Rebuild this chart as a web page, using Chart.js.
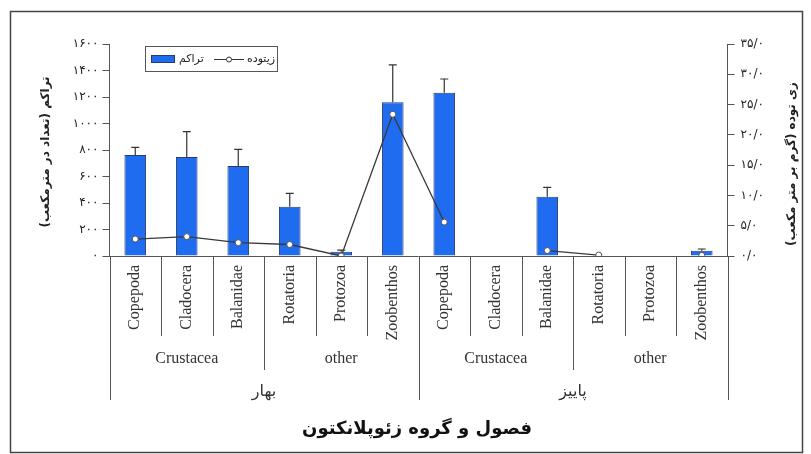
<!DOCTYPE html>
<html>
<head>
<meta charset="utf-8">
<script src="https://cdn.jsdelivr.net/npm/chart.js@4.4.0/dist/chart.umd.min.js"></script>
<style>
  body { margin: 0; background: #fff; }
  canvas { display: block; }
</style>
</head>
<body>
<canvas id="chart" width="811" height="454"></canvas>
<script>
// Zooplankton data, two seasons x six groups
const categories = ['Copepoda', 'Cladocera', 'Balanidae', 'Rotatoria', 'Protozoa', 'Zoobenthos',
                    'Copepoda', 'Cladocera', 'Balanidae', 'Rotatoria', 'Protozoa', 'Zoobenthos'];
const groups = ['Crustacea', 'other', 'Crustacea', 'other'];
const seasons = ['بهار', 'پاییز'];
// density (count per m3), left axis
const density = [762, 748, 680, 372, 33, 1160, 1232, 0, 448, 4, 0, 40];
const densityErrTop = [820, 938, 805, 473, 45, 1442, 1336, null, 518, null, null, 53];
// biomass (g per m3), right axis
const biomass = [2.8, 3.2, 2.2, 1.9, 0, 23.4, 5.6, null, 0.9, 0.15, null, 0.1];

const densityTicks = [0, 200, 400, 600, 800, 1000, 1200, 1400, 1600];
const biomassTicks = [0, 5, 10, 15, 20, 25, 30, 35];

const faDigits = '۰۱۲۳۴۵۶۷۸۹';
function fa(n) {
    return String(n).replace(/[0-9]/g, d => faDigits[d]);
}

const lineCol = '#555';
const barCol = '#1f6cf0';

// draws frame, error bars, grouped x labels, axis titles, legend
const extras = {
    id: 'extras',
    beforeDraw(chart) {
        const ctx = chart.ctx;
        ctx.save();
        ctx.fillStyle = '#fff';
        ctx.fillRect(0, 0, chart.width, chart.height);
        ctx.strokeStyle = '#444';
        ctx.lineWidth = 1.5;
        ctx.strokeRect(10.5, 11.5, 792, 441);
        ctx.restore();
    },
    afterDatasetsDraw(chart) {
        const ctx = chart.ctx;
        const y = chart.scales.y;
        const bars = chart.getDatasetMeta(1).data;
        ctx.save();
        ctx.strokeStyle = '#333';
        ctx.lineWidth = 1.2;
        densityErrTop.forEach((v, i) => {
            if (v == null) return;
            const bx = bars[i].x;
            const top = y.getPixelForValue(v);
            const base = y.getPixelForValue(density[i]);
            ctx.beginPath();
            ctx.moveTo(bx, base);
            ctx.lineTo(bx, top);
            ctx.moveTo(bx - 4, top);
            ctx.lineTo(bx + 4, top);
            ctx.stroke();
        });
        ctx.restore();
    },
    afterDraw(chart) {
        const ctx = chart.ctx;
        const x = chart.scales.x;
        const area = chart.chartArea;
        const bottom = area.bottom;
        const step = x.getPixelForValue(1) - x.getPixelForValue(0);
        const edge = i => x.getPixelForValue(0) - step / 2 + i * step;
        ctx.save();

        // separators under the axis
        ctx.strokeStyle = lineCol;
        ctx.lineWidth = 1;
        for (let i = 0; i <= categories.length; i++) {
            let end = bottom + 80;
            if (i % 6 === 0) end = bottom + 144;
            else if (i % 3 === 0) end = bottom + 114;
            const px = Math.round(edge(i)) + 0.5;
            ctx.beginPath();
            ctx.moveTo(px, bottom);
            ctx.lineTo(px, end);
            ctx.stroke();
        }

        // category labels, rotated
        ctx.fillStyle = '#333';
        ctx.font = '16px "Liberation Serif"';
        ctx.textAlign = 'right';
        ctx.textBaseline = 'middle';
        categories.forEach((c, i) => {
            ctx.save();
            ctx.translate(x.getPixelForValue(i), bottom + 9);
            ctx.rotate(-Math.PI / 2);
            ctx.fillText(c, 0, 0);
            ctx.restore();
        });

        // group labels
        ctx.textAlign = 'center';
        groups.forEach((g, i) => {
            ctx.fillText(g, (edge(i * 3) + edge(i * 3 + 3)) / 2, bottom + 103);
        });

        // season labels
        ctx.font = '16px "DejaVu Sans"';
        seasons.forEach((s, i) => {
            ctx.fillText(s, (edge(i * 6) + edge(i * 6 + 6)) / 2, bottom + 136);
        });

        // x title
        ctx.fillStyle = '#111';
        ctx.font = 'bold 18px "DejaVu Sans"';
        ctx.fillText('فصول و گروه زئوپلانکتون', 417, 429);

        // y titles, both read bottom to top
        ctx.font = 'bold 12px "DejaVu Sans"';
        ctx.fillStyle = '#222';
        ctx.save();
        ctx.translate(46, 152);
        ctx.rotate(-Math.PI / 2);
        ctx.fillText('تراکم (تعداد در مترمکعب)', 0, 0);
        ctx.restore();
        ctx.save();
        ctx.translate(792, 164);
        ctx.rotate(-Math.PI / 2);
        ctx.fillText('زی توده (گرم بر متر مکعب)', 0, 0);
        ctx.restore();

        // legend
        ctx.strokeStyle = '#555';
        ctx.lineWidth = 1;
        ctx.strokeRect(145.5, 46.5, 132, 25);
        ctx.fillStyle = barCol;
        ctx.fillRect(151, 55, 24, 8);
        ctx.strokeStyle = '#2a3d6a';
        ctx.strokeRect(151.5, 55.5, 23, 7);
        ctx.fillStyle = '#222';
        ctx.font = '11px "DejaVu Sans"';
        ctx.textAlign = 'left';
        ctx.fillText('تراکم', 179, 59);
        ctx.strokeStyle = '#333';
        ctx.beginPath();
        ctx.moveTo(214, 59.5);
        ctx.lineTo(244, 59.5);
        ctx.stroke();
        ctx.beginPath();
        ctx.arc(229, 59.5, 2.5, 0, Math.PI * 2);
        ctx.fillStyle = '#fff';
        ctx.fill();
        ctx.stroke();
        ctx.fillStyle = '#222';
        ctx.fillText('زیتوده', 247, 59);
        ctx.restore();
    }
};

const ctx = document.getElementById('chart').getContext('2d');
const chart = new Chart(ctx, {
    data: {
        labels: categories,
        datasets: [{
            type: 'line',
            label: 'زیتوده',
            data: biomass,
            yAxisID: 'y2',
            borderColor: '#3a3a3a',
            borderWidth: 1.3,
            pointRadius: 3,
            pointBackgroundColor: '#fff',
            pointBorderColor: '#555',
            pointBorderWidth: 1,
            spanGaps: false,
            tension: 0,
            order: 0
        }, {
            type: 'bar',
            label: 'تراکم',
            data: density,
            yAxisID: 'y',
            backgroundColor: barCol,
            borderColor: '#2a3d6a',
            borderWidth: 1,
            barPercentage: 0.42,
            categoryPercentage: 1,
            order: 1
        }]
    },
    options: {
        responsive: false,
        animation: false,
        devicePixelRatio: 1,
        layout: { padding: { top: 44, bottom: 198, left: 0, right: 0 } },
        plugins: {
            legend: { display: false },
            tooltip: { enabled: false }
        },
        scales: {
            x: {
                offset: true,
                ticks: { display: false },
                grid: { display: false, drawTicks: false },
                border: { color: lineCol, width: 1 },
                afterFit: s => { s.height = 0; }
            },
            y: {
                position: 'left',
                min: 0,
                max: 1600,
                afterBuildTicks: s => { s.ticks = densityTicks.map(v => ({ value: v })); },
                ticks: {
                    color: '#222',
                    font: { family: 'DejaVu Sans', size: 12 },
                    padding: 4,
                    callback: v => fa(v)
                },
                grid: { drawOnChartArea: false, tickLength: 7, color: lineCol },
                border: { color: lineCol, width: 1 },
                afterFit: s => { s.width = 109.5; }
            },
            y2: {
                position: 'right',
                min: 0,
                max: 35,
                afterBuildTicks: s => { s.ticks = biomassTicks.map(v => ({ value: v })); },
                ticks: {
                    color: '#222',
                    font: { family: 'DejaVu Sans', size: 12 },
                    padding: 6,
                    callback: v => fa(v) + '/' + fa(0)
                },
                grid: { drawOnChartArea: false, tickLength: 7, color: lineCol },
                border: { color: lineCol, width: 1 },
                afterFit: s => { s.width = 83.5; }
            }
        }
    },
    plugins: [extras]
});
</script>
</body>
</html>
